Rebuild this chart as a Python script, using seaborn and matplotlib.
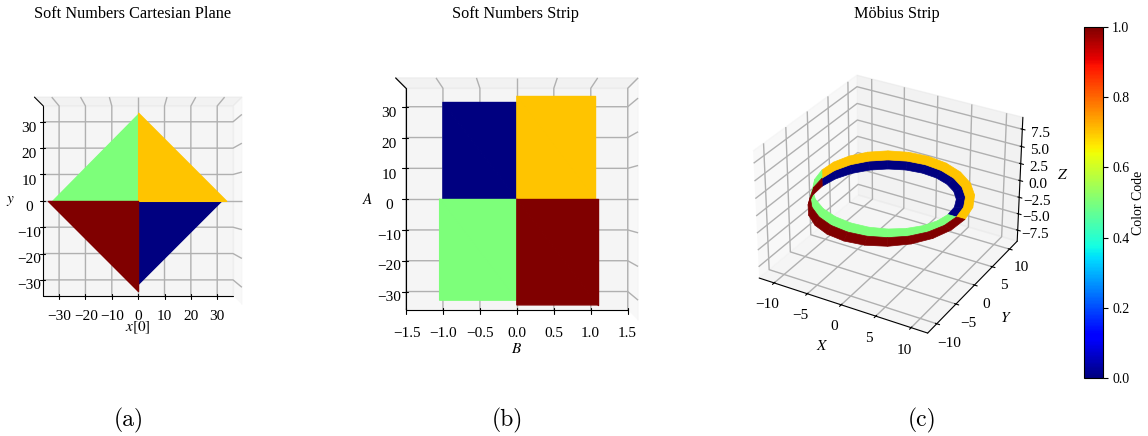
import numpy as np
import seaborn as sns
import matplotlib
matplotlib.use("Agg")
import matplotlib.pyplot as plt
from matplotlib.cm import ScalarMappable
from matplotlib.colors import Normalize

# ---- data ----
code_navy, code_green, code_orange, code_maroon = 0.0, 0.5, 0.7, 1.0
tip = 31.4
# panel (a): (x corner, y corner, code)
a_x_orange = [0, tip, 0];   a_y_orange = [0, 0, tip]
a_x_green = [0, -tip, 0];   a_y_green = [0, 0, tip]
a_x_maroon = [0, -tip, 0];  a_y_maroon = [0, 0, -tip]
a_x_navy = [0, tip, 0];     a_y_navy = [0, 0, -tip]
# panel (b)
b_x_navy = [-1, 0, 0, -1];   b_y_navy = [0, 0, tip, tip]
b_x_orange = [0, 1, 1, 0];   b_y_orange = [0, 0, tip, tip]
b_x_green = [-1, 0, 0, -1];  b_y_green = [-tip, -tip, 0, 0]
b_x_maroon = [0, 1, 1, 0];   b_y_maroon = [-tip, -tip, 0, 0]
# panel (c): stations along the ring
ring_center = 9.9
ring_shift_x = -0.4
ring_angle_deg = [0, 15, 30, 45, 60, 75, 90, 105, 120, 135, 150, 165, 180,
                  195, 210, 225, 240, 255, 270, 285, 300, 315, 330, 345, 360]
edge_dr = [1.20, 1.19, 1.16, 1.11, 1.04, 0.95, 0.85, 0.73, 0.60, 0.46, 0.31, 0.16, 0.00,
           -0.16, -0.31, -0.46, -0.60, -0.73, -0.85, -0.95, -1.04, -1.11, -1.16, -1.19, -1.20]
edge_dz = [0.00, 0.16, 0.31, 0.46, 0.60, 0.73, 0.85, 0.95, 1.04, 1.11, 1.16, 1.19, 1.20,
           1.19, 1.16, 1.11, 1.04, 0.95, 0.85, 0.73, 0.60, 0.46, 0.31, 0.16, 0.00]
a_ticks = [-30, -20, -10, 0, 10, 20, 30]
b_xticks = [-1.5, -1.0, -0.5, 0.0, 0.5, 1.0, 1.5]
c_xyticks = [-10, -5, 0, 5, 10]
c_zticks = [-7.5, -5.0, -2.5, 0.0, 2.5, 5.0, 7.5]
cbar_ticks = [0.0, 0.2, 0.4, 0.6, 0.8, 1.0]

sns.set_theme(style="ticks", rc={
    "axes.edgecolor": "black", "text.color": "black", "axes.labelcolor": "black",
    "xtick.color": "black", "ytick.color": "black", "grid.color": "#b0b0b0",
    "grid.linewidth": 1.0, "axes.linewidth": 0.8, "axes.grid": True,
    "xtick.major.width": 0.8, "ytick.major.width": 0.8,
})
plt.rcParams["font.family"] = ["Liberation Serif", "DejaVu Serif"]
plt.rcParams["mathtext.fontset"] = "stix"
plt.rcParams["axes.unicode_minus"] = True

cmap = matplotlib.colormaps["jet"]
norm = Normalize(0, 1)
W, H = 1148, 436
fig = plt.figure(figsize=(W / 100, H / 100), dpi=100)


def rect(l, t, r, b):
    return [l / W, 1 - b / H, (r - l) / W, (b - t) / H]


def face(ax, x, y, code):
    ax.plot_trisurf(np.array(x, float), np.array(y, float), np.full(len(x), code),
                    color=cmap(norm(code)), shade=False, linewidth=1.0,
                    edgecolor=cmap(norm(code)))


FS = 11
# ---- (a) ----
ax1 = fig.add_axes(rect(-20, 51, 288, 359), projection="3d")
face(ax1, a_x_navy, a_y_navy, code_navy)
face(ax1, a_x_green, a_y_green, code_green)
face(ax1, a_x_orange, a_y_orange, code_orange)
face(ax1, a_x_maroon, a_y_maroon, code_maroon)
ax1.set_xlim(-36, 36); ax1.set_ylim(-36, 36); ax1.set_zlim(0, 1)
ax1.set_xticks(a_ticks); ax1.set_yticks(a_ticks); ax1.set_zticks([])
ax1.view_init(elev=90, azim=-90)
ax1.set_xlabel(r"$x[0]$", fontsize=FS, labelpad=0)
ax1.set_ylabel(r"$y$", fontsize=FS, labelpad=0)

# ---- (b) ----
ax2 = fig.add_axes(rect(332, 24, 692, 384), projection="3d")
face(ax2, b_x_navy, b_y_navy, code_navy)
face(ax2, b_x_green, b_y_green, code_green)
face(ax2, b_x_orange, b_y_orange, code_orange)
face(ax2, b_x_maroon, b_y_maroon, code_maroon)
ax2.set_xlim(-1.5, 1.5); ax2.set_ylim(-36, 36); ax2.set_zlim(0, 1)
ax2.set_xticks(b_xticks); ax2.set_yticks(a_ticks); ax2.set_zticks([])
ax2.view_init(elev=90, azim=-90)
ax2.set_xlabel(r"$B$", fontsize=FS, labelpad=4)
ax2.set_ylabel(r"$A$", fontsize=FS, labelpad=4)

# ---- (c) ----
ax3 = fig.add_axes(rect(736.5, 49.5, 1036.5, 354.5), projection="3d")
ang = np.radians(ring_angle_deg)
dr = np.array(edge_dr)
dz = np.array(edge_dz)


def band(idx, sign, code):
    s = np.array(idx)
    r = np.vstack([ring_center + 0 * dr[s], ring_center + sign * dr[s]])
    z = np.vstack([0 * dz[s], sign * dz[s]])
    ax3.plot_surface(r * np.cos(ang[s]) + ring_shift_x, r * np.sin(ang[s]), z,
                     color=cmap(norm(code)), shade=False, rstride=1, cstride=1,
                     linewidth=0.5, edgecolor=cmap(norm(code)))


back = list(range(0, 13))
front = list(range(12, 25))
band(back, 1, code_orange)
band(back, -1, code_navy)
band(front, -1, code_maroon)
band(front, 1, code_green)
ax3.set_xlim(-12.3, 12.3); ax3.set_ylim(-12.3, 12.3); ax3.set_zlim(-9.2, 9.2)
ax3.set_xticks(c_xyticks); ax3.set_yticks(c_xyticks); ax3.set_zticks(c_zticks)
ax3.view_init(elev=30, azim=-60)
ax3.set_xlabel(r"$X$", fontsize=FS, labelpad=0)
ax3.set_ylabel(r"$Y$", fontsize=FS, labelpad=0)
ax3.set_zlabel(r"$Z$", fontsize=FS, labelpad=-2)

for ax, pad in ((ax1, 1), (ax2, 3), (ax3, 0)):
    ax.tick_params(labelsize=FS, pad=pad)
    ax.set_facecolor("white")

fig.text(133 / W, 1 - 13.5 / H, "Soft Numbers Cartesian Plane", ha="center", va="center", fontsize=11.7)
fig.text(515 / W, 1 - 13.5 / H, "Soft Numbers Strip", ha="center", va="center", fontsize=11.7)
fig.text(897 / W, 1 - 13.5 / H, "Möbius Strip", ha="center", va="center", fontsize=11.7)
cap = ["cmr10", "DejaVu Serif"]
fig.text(129 / W, 1 - 420 / H, "(a)", ha="center", va="center", fontsize=17, family=cap)
fig.text(507 / W, 1 - 420 / H, "(b)", ha="center", va="center", fontsize=17, family=cap)
fig.text(922 / W, 1 - 420 / H, "(c)", ha="center", va="center", fontsize=17, family=cap)

cax = fig.add_axes(rect(1084, 27, 1103, 378))
cb = fig.colorbar(ScalarMappable(norm=norm, cmap=cmap), cax=cax, ticks=cbar_ticks)
cb.set_label("Color Code", fontsize=10, labelpad=2)
cb.ax.tick_params(labelsize=10, length=3.5, width=0.8, pad=3)
cb.ax.grid(False)
cb.outline.set_linewidth(0.8)
fig.savefig("out.png", dpi=100)
